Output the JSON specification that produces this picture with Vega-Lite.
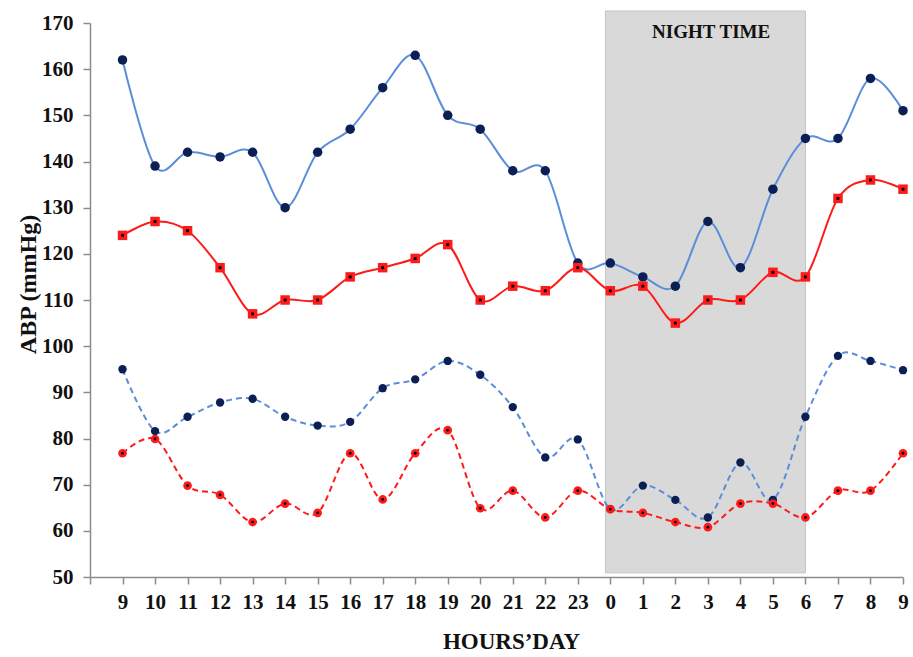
{
  "$schema": "https://vega.github.io/schema/vega-lite/v6.json",
  "width": 813,
  "height": 554,
  "autosize": {"type": "none"},
  "padding": {"left": 90, "top": 23, "right": 10, "bottom": 80},
  "background": "white",
  "data": {
    "values": [
      {"i": 1, "hour": 9, "sbp1": 162, "sbp2": 124, "dbp1": 95, "dbp2": 76.8},
      {"i": 2, "hour": 10, "sbp1": 139, "sbp2": 127, "dbp1": 81.6, "dbp2": 79.9},
      {"i": 3, "hour": 11, "sbp1": 142, "sbp2": 125, "dbp1": 84.7, "dbp2": 69.8},
      {"i": 4, "hour": 12, "sbp1": 141, "sbp2": 117, "dbp1": 87.8, "dbp2": 67.8},
      {"i": 5, "hour": 13, "sbp1": 142, "sbp2": 107, "dbp1": 88.6, "dbp2": 61.9},
      {"i": 6, "hour": 14, "sbp1": 130, "sbp2": 110, "dbp1": 84.7, "dbp2": 65.9},
      {"i": 7, "hour": 15, "sbp1": 142, "sbp2": 110, "dbp1": 82.8, "dbp2": 63.9},
      {"i": 8, "hour": 16, "sbp1": 147, "sbp2": 115, "dbp1": 83.6, "dbp2": 76.8},
      {"i": 9, "hour": 17, "sbp1": 156, "sbp2": 117, "dbp1": 90.9, "dbp2": 66.8},
      {"i": 10, "hour": 18, "sbp1": 163, "sbp2": 119, "dbp1": 92.8, "dbp2": 76.8},
      {"i": 11, "hour": 19, "sbp1": 150, "sbp2": 122, "dbp1": 96.8, "dbp2": 81.8},
      {"i": 12, "hour": 20, "sbp1": 147, "sbp2": 110, "dbp1": 93.8, "dbp2": 64.9},
      {"i": 13, "hour": 21, "sbp1": 138, "sbp2": 113, "dbp1": 86.8, "dbp2": 68.7},
      {"i": 14, "hour": 22, "sbp1": 138, "sbp2": 112, "dbp1": 75.9, "dbp2": 62.9},
      {"i": 15, "hour": 23, "sbp1": 118, "sbp2": 117, "dbp1": 79.8, "dbp2": 68.7},
      {"i": 16, "hour": 0, "sbp1": 118, "sbp2": 112, "dbp1": 64.7, "dbp2": 64.7},
      {"i": 17, "hour": 1, "sbp1": 115, "sbp2": 113, "dbp1": 69.8, "dbp2": 63.9},
      {"i": 18, "hour": 2, "sbp1": 113, "sbp2": 105, "dbp1": 66.7, "dbp2": 61.9},
      {"i": 19, "hour": 3, "sbp1": 127, "sbp2": 110, "dbp1": 62.9, "dbp2": 60.8},
      {"i": 20, "hour": 4, "sbp1": 117, "sbp2": 110, "dbp1": 74.8, "dbp2": 65.9},
      {"i": 21, "hour": 5, "sbp1": 134, "sbp2": 116, "dbp1": 66.7, "dbp2": 65.9},
      {"i": 22, "hour": 6, "sbp1": 145, "sbp2": 115, "dbp1": 84.7, "dbp2": 62.9},
      {"i": 23, "hour": 7, "sbp1": 145, "sbp2": 132, "dbp1": 97.9, "dbp2": 68.7},
      {"i": 24, "hour": 8, "sbp1": 158, "sbp2": 136, "dbp1": 96.8, "dbp2": 68.7},
      {"i": 25, "hour": 9, "sbp1": 151, "sbp2": 134, "dbp1": 94.8, "dbp2": 76.8}
    ]
  },
  "encoding": {
    "x": {
      "field": "i",
      "type": "quantitative",
      "scale": {"domain": [0, 25], "nice": false, "zero": false},
      "axis": {
        "title": "HOURS’DAY",
        "values": [0,1,2,3,4,5,6,7,8,9,10,11,12,13,14,15,16,17,18,19,20,21,22,23,24,25],
        "labelExpr": "datum.value == 0 ? '' : '' + ((datum.value + 8) % 24)"
      }
    }
  },
  "layer": [
    {
      "data": {"values": [{"i": 15.85, "i2": 22, "lo": 50.9, "hi": 172.6}]},
      "mark": {"type": "rect", "fill": "#d9d9d9", "stroke": "#c4c4c4", "strokeWidth": 1, "clip": false},
      "encoding": {
        "x2": {"field": "i2"},
        "y": {"field": "lo", "type": "quantitative", "scale": {"domain": [50, 170], "nice": false, "zero": false}, "axis": {"title": "ABP (mmHg)", "values": [50,60,70,80,90,100,110,120,130,140,150,160,170]}},
        "y2": {"field": "hi"}
      }
    },
    {
      "data": {"values": [{"i": 19.1, "v": 168, "label": "NIGHT TIME"}]},
      "mark": {"type": "text", "font": "Liberation Serif", "fontWeight": "bold", "fontSize": 19, "color": "#111", "baseline": "middle", "align": "center"},
      "encoding": {
        "y": {"field": "v", "type": "quantitative", "scale": {"domain": [50, 170]}, "axis": {"title": "ABP (mmHg)"}},
        "text": {"field": "label"}
      }
    },
    {
      "mark": {"type": "line", "interpolate": "cardinal", "color": "#5b8ed8", "strokeWidth": 2},
      "encoding": {"y": {"field": "sbp1", "type": "quantitative", "scale": {"domain": [50, 170]}, "axis": {"title": "ABP (mmHg)"}}}
    },
    {
      "mark": {"type": "point", "shape": "circle", "filled": true, "color": "#0b1f55", "size": 90, "opacity": 1},
      "encoding": {"y": {"field": "sbp1", "type": "quantitative", "scale": {"domain": [50, 170]}, "axis": {"title": "ABP (mmHg)"}}}
    },
    {
      "mark": {"type": "line", "interpolate": "cardinal", "color": "#ff1a1a", "strokeWidth": 2},
      "encoding": {"y": {"field": "sbp2", "type": "quantitative", "scale": {"domain": [50, 170]}, "axis": {"title": "ABP (mmHg)"}}}
    },
    {
      "mark": {"type": "point", "shape": "square", "filled": true, "color": "#ff1a1a", "size": 90, "opacity": 1},
      "encoding": {"y": {"field": "sbp2", "type": "quantitative", "scale": {"domain": [50, 170]}, "axis": {"title": "ABP (mmHg)"}}}
    },
    {
      "mark": {"type": "point", "shape": "square", "filled": true, "color": "#000000", "size": 8, "opacity": 1},
      "encoding": {"y": {"field": "sbp2", "type": "quantitative", "scale": {"domain": [50, 170]}, "axis": {"title": "ABP (mmHg)"}}}
    },
    {
      "mark": {"type": "line", "interpolate": "cardinal", "color": "#5b8ed8", "strokeWidth": 2, "strokeDash": [6, 4]},
      "encoding": {"y": {"field": "dbp1", "type": "quantitative", "scale": {"domain": [50, 170]}, "axis": {"title": "ABP (mmHg)"}}}
    },
    {
      "mark": {"type": "point", "shape": "circle", "filled": true, "color": "#0b1f55", "size": 70, "opacity": 1},
      "encoding": {"y": {"field": "dbp1", "type": "quantitative", "scale": {"domain": [50, 170]}, "axis": {"title": "ABP (mmHg)"}}}
    },
    {
      "mark": {"type": "line", "interpolate": "cardinal", "color": "#ff1a1a", "strokeWidth": 2, "strokeDash": [6, 4]},
      "encoding": {"y": {"field": "dbp2", "type": "quantitative", "scale": {"domain": [50, 170]}, "axis": {"title": "ABP (mmHg)"}}}
    },
    {
      "mark": {"type": "point", "shape": "circle", "filled": true, "color": "#ff1a1a", "size": 75, "opacity": 1},
      "encoding": {"y": {"field": "dbp2", "type": "quantitative", "scale": {"domain": [50, 170]}, "axis": {"title": "ABP (mmHg)"}}}
    },
    {
      "mark": {"type": "point", "shape": "circle", "filled": true, "color": "#000000", "size": 8, "opacity": 1},
      "encoding": {"y": {"field": "dbp2", "type": "quantitative", "scale": {"domain": [50, 170]}, "axis": {"title": "ABP (mmHg)"}}}
    }
  ],
  "config": {
    "view": {"stroke": null},
    "axis": {
      "grid": false,
      "domainColor": "#8c8c8c",
      "tickColor": "#8c8c8c",
      "domainWidth": 1.5,
      "tickWidth": 1.5,
      "tickSize": 7,
      "labelFont": "Liberation Serif",
      "labelFontWeight": "bold",
      "labelFontSize": 21,
      "labelColor": "#111111",
      "titleFont": "Liberation Serif",
      "titleFontWeight": "bold",
      "titleColor": "#111111"
    },
    "axisY": {
      "labelPadding": 10,
      "titleFontSize": 24,
      "titleX": -62,
      "titleY": 261,
      "titleAngle": -90,
      "titleAlign": "center",
      "titleBaseline": "middle"
    },
    "axisX": {
      "labelPadding": 7,
      "labelAngle": 0,
      "labelFlush": false,
      "labelOverlap": false,
      "titleFontSize": 23,
      "titleX": 421,
      "titleY": 64,
      "titleAlign": "center",
      "titleBaseline": "middle"
    }
  }
}
